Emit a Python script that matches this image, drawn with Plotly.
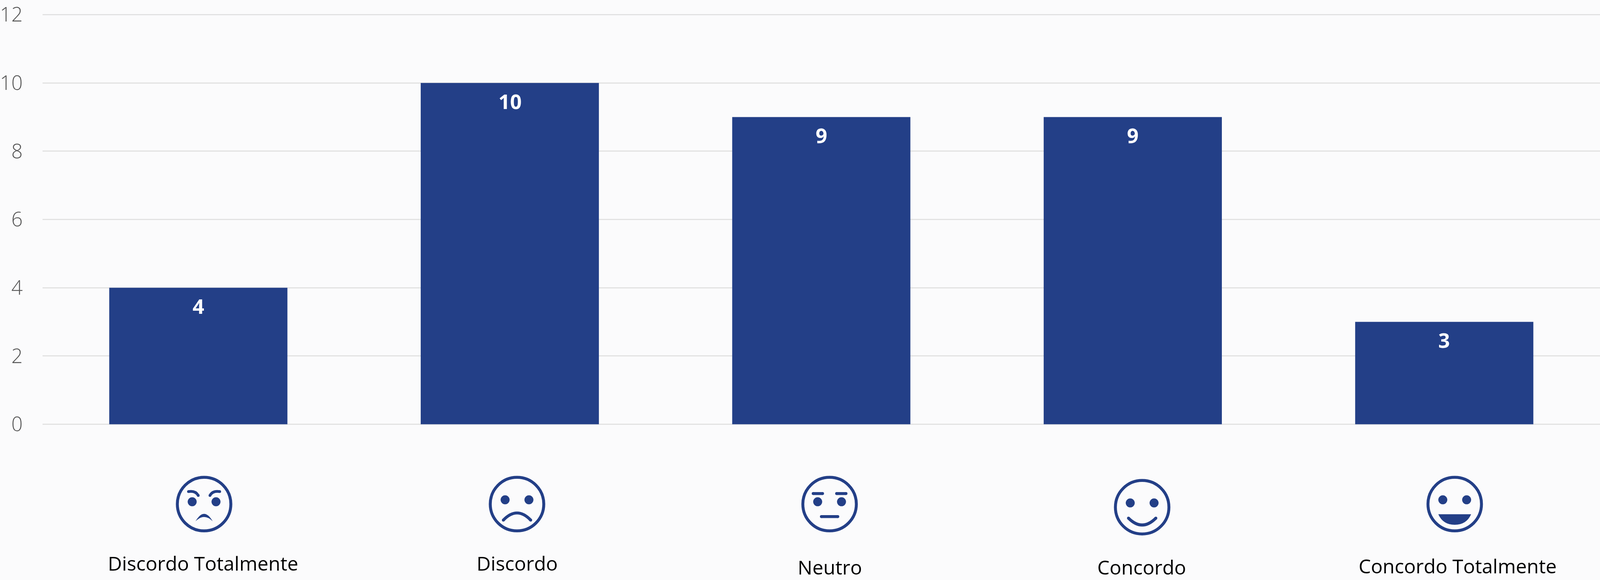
import plotly.graph_objects as go

categories = ["Discordo Totalmente", "Discordo", "Neutro", "Concordo", "Concordo Totalmente"]
values = [4, 10, 9, 9, 3]
y_ticks = [0, 2, 4, 6, 8, 10, 12]

BLUE = "#233F87"
BG = "#FBFBFC"
W, H = 4096, 1484          # the browser window is 4096 wide, so the layout is fitted to it
SX = W / 4434              # horizontal scale from reference px to window px
Y0_PX, Y12_PX = 1085.7, 28.5
PAD = 0.03                 # axis overshoot so the 0 and 12 gridlines are kept
UNIT = (Y0_PX - Y12_PX) / 12
M_L = 116 * SX
M_T = Y12_PX - PAD * UNIT
M_B = H - Y0_PX - PAD * UNIT

# Icon and caption placement: horizontal shift from category centre, px from figure top
icon_dx = [16, 20, 23, 26, 29]
icon_cy = [1292, 1292, 1292, 1300, 1292]
cap_dx = [13, 20, 24, 25, 37]
cap_base = [1462, 1462, 1472, 1472, 1469]


def paper_y(px):
    return (H - M_B - px) / (H - M_B - M_T)


fig = go.Figure(go.Bar(x=categories, y=values, marker=dict(color=BLUE, line=dict(width=0)),
                       width=0.572, hoverinfo="x+y"))

shapes, annotations = [], []


def base_shape(cat, cy):
    return dict(xref="x", yref="paper", xsizemode="pixel", ysizemode="pixel",
                xanchor=cat, yanchor=paper_y(cy), layer="above")


def circle(cat, dx, cy, cx0, cy0, r, fill=None, lw=0):
    s = base_shape(cat, cy)
    s.update(type="circle", x0=dx + cx0 - r, x1=dx + cx0 + r, y0=cy0 - r, y1=cy0 + r,
             line=dict(color=BLUE, width=lw), fillcolor=fill or "rgba(0,0,0,0)")
    shapes.append(s)


def shifted(dx, pts):
    return " ".join(t if isinstance(t, str) else f"{t[0] + dx},{t[1]}" for t in pts)


def stroke(cat, dx, cy, pts, w=7.5):
    """Open path with rounded ends (small discs on both end points)."""
    s = base_shape(cat, cy)
    s.update(type="path", path=shifted(dx, pts), line=dict(color=BLUE, width=w), fillcolor="rgba(0,0,0,0)")
    shapes.append(s)
    coords = [t for t in pts if not isinstance(t, str)]
    for p in (coords[0], coords[-1]):
        circle(cat, dx, cy, p[0], p[1], w / 2, fill=BLUE)


def solid(cat, dx, cy, pts):
    s = base_shape(cat, cy)
    s.update(type="path", path=shifted(dx, pts), line=dict(width=0), fillcolor=BLUE)
    shapes.append(s)


def face(i):
    cat, dx, cy = categories[i], icon_dx[i] * SX, icon_cy[i]
    circle(cat, dx, cy, 0, 0, 68.5, lw=7.5)
    eye_y = 6 if i in (0, 2) else 11
    for ex in (-30.5, 30.5):
        circle(cat, dx, cy, ex, eye_y, 11.5, fill=BLUE)
    if i == 0:
        stroke(cat, dx, cy, ["M", (-40, 32), "Q", (-22, 35), (-15, 22)], 7)
        stroke(cat, dx, cy, ["M", (40, 32), "Q", (22, 35), (15, 22)], 7)
        solid(cat, dx, cy, ["M", (-22, -44), "Q", (0, -6), (22, -44), "Q", (0, -22), (-22, -44), "Z"])
    elif i == 1:
        stroke(cat, dx, cy, ["M", (-35, -41), "Q", (0, -4.5), (35, -41)])
    elif i == 2:
        stroke(cat, dx, cy, ["M", (-42, 27), "L", (-18, 27)])
        stroke(cat, dx, cy, ["M", (18, 27), "L", (42, 27)])
        stroke(cat, dx, cy, ["M", (-21, -32), "L", (21, -32)])
    elif i == 3:
        stroke(cat, dx, cy, ["M", (-35, -28), "Q", (0, -63), (35, -28)])
    elif i == 4:
        solid(cat, dx, cy, ["M", (-42, -26), "L", (42, -26),
                            "Q", (30, -53), (0, -53), "Q", (-30, -53), (-42, -26), "Z"])


for i in range(5):
    face(i)
    annotations.append(dict(x=categories[i], y=values[i], xref="x", yref="y", text=f"<b>{values[i]}</b>",
                            showarrow=False, yanchor="middle", xanchor="center", yshift=-46, xshift=0,
                            font=dict(family="Open Sans", size=52, color="#FFFFFF")))
    annotations.append(dict(x=categories[i], xref="x", yref="paper", y=paper_y(cap_base[i]), yanchor="bottom",
                            yshift=-19, xshift=cap_dx[i] * SX, text=categories[i], showarrow=False,
                            xanchor="center", font=dict(family="Open Sans", size=50, color="#000000")))

fig.update_layout(
    width=W, height=H, autosize=False, showlegend=False,
    margin=dict(l=M_L, r=0, t=M_T, b=M_B, pad=0),
    paper_bgcolor=BG, plot_bgcolor=BG,
    shapes=shapes, annotations=annotations,
    xaxis=dict(type="category", categoryorder="array", categoryarray=categories, showticklabels=False,
               showgrid=False, zeroline=False, showline=False, ticks=""),
    yaxis=dict(range=[-PAD, 12 + PAD], tickmode="array", tickvals=y_ticks, showgrid=True,
               gridcolor="#E2E2E2", gridwidth=3, zeroline=False, showline=False, ticks="",
               ticklabelstandoff=50, ticklabeloverflow="allow",
               tickfont=dict(family="Open Sans", size=51, color="#555555", weight=300)),
)

fig.write_html("out.html", config=dict(displayModeBar=False), post_script="document.body.style.margin='0';")
